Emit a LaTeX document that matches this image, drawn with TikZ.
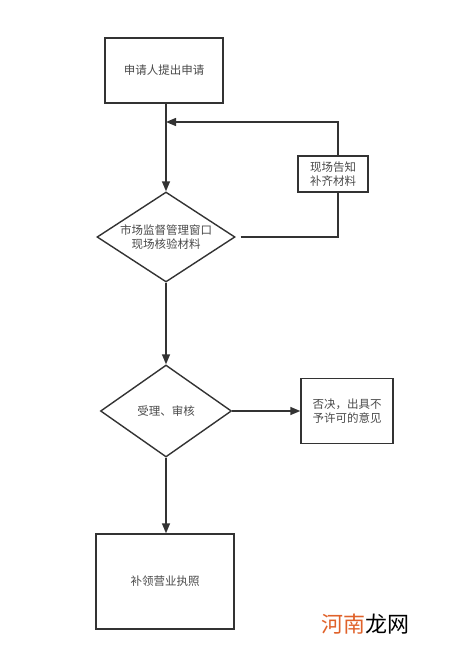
\documentclass[tikz,border=0pt]{standalone}
\usepackage{fontspec}
\newfontfamily\cjk{Noto Sans CJK SC}
\usetikzlibrary{shapes.geometric,arrows.meta}
\definecolor{linec}{HTML}{333333}
\definecolor{textc}{HTML}{4A4A4A}
\definecolor{wmorange}{HTML}{E0622A}
\tikzset{
  every node/.style={font=\cjk\fontsize{11.5}{14}\selectfont, text=textc, align=center},
  boxnode/.style={draw=linec, line width=1.4pt, fill=white, inner sep=0pt},
  diam/.style={draw=linec, line width=1.4pt, fill=white, diamond, inner sep=0pt},
  conn/.style={draw=linec, line width=1.4pt, -{Triangle[length=10pt,width=8pt]}},
  plain/.style={draw=linec, line width=1.4pt}
}
\begin{document}
\begin{tikzpicture}[x=1pt,y=-1pt]
\useasboundingbox (0,0) rectangle (453,659);
\node[boxnode, minimum width=118pt, minimum height=65pt] (apply) at (164,70.5) {申请人提出申请};
\node[diam, minimum width=138pt, minimum height=90pt] (check) at (166,237) {};
\node at (166,237) {市场监督管理窗口\\现场核验材料};
\node[boxnode, minimum width=70pt, minimum height=36pt] (supp) at (333,174) {现场告知\\补齐材料};
\node[diam, minimum width=131pt, minimum height=92pt] (review) at (166,411) {};
\node at (166,411) {受理、审核};
\node[boxnode, minimum width=92pt, minimum height=65pt] (reject) at (347,411) {否决，出具不\\予许可的意见};
\node[boxnode, minimum width=138pt, minimum height=95pt] (license) at (165,581.5) {补领营业执照};
\node[font=\cjk\fontsize{22}{24}\selectfont, anchor=center] (wm) at (365,624) {\textcolor{wmorange}{河南}\textcolor{black}{龙网}};
\coordinate (fb1) at (338,237);
\coordinate (fb2) at (338,122);
\coordinate (fb3) at (166,122);
\draw[conn] (apply.south -| check.north) -- (check.north);
\draw[plain] ([xshift=5pt]check.east) -- (fb1) -- (supp.south -| fb1);
\draw[conn] (supp.north -| fb2) -- (fb2) -- (fb3);
\draw[conn] (check.south) -- (review.north);
\draw[conn] (review.east) -- (reject.west);
\draw[conn] (review.south) -- (license.north -| review.south);
\end{tikzpicture}
\end{document}
